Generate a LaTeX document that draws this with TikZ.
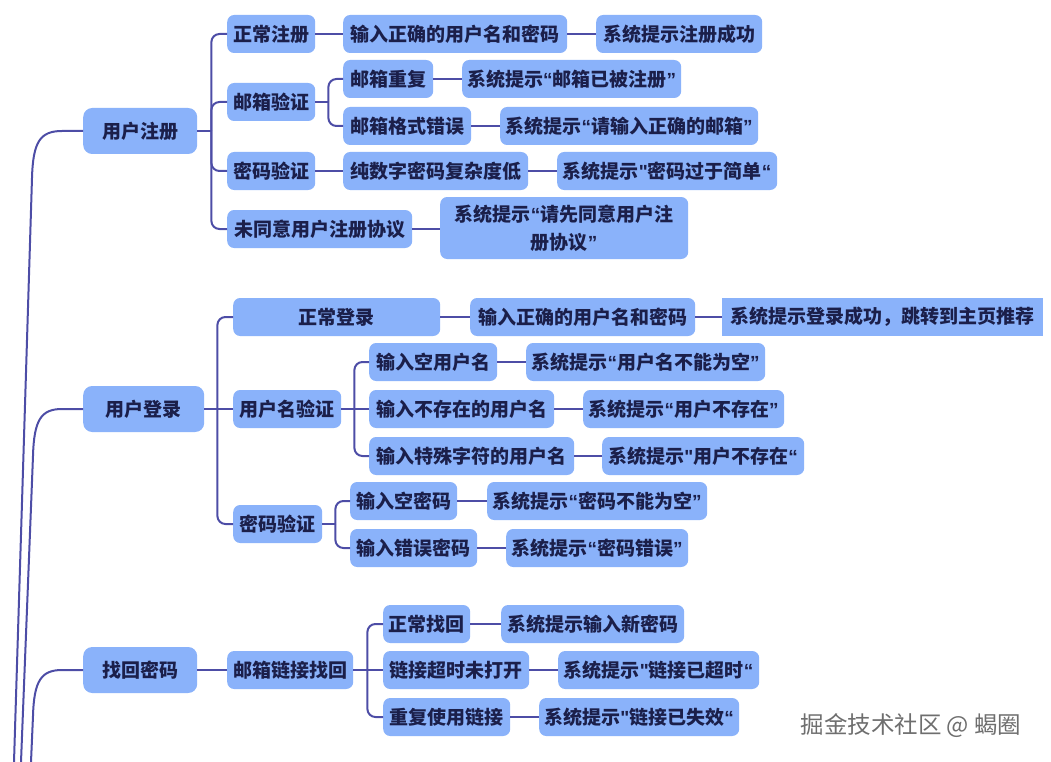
\documentclass[tikz,border=0pt]{standalone}
\usepackage{fontspec}
\setmainfont{Noto Sans CJK SC}
\newfontfamily\quotefont{Liberation Sans}[Ligatures=NoCommon]
\newcommand\oq{{\quotefont\bfseries “}}
\newcommand\cq{{\quotefont\bfseries ”}}
\newcommand\sq{{\quotefont\bfseries\symbol{34}}}
\definecolor{boxfill}{HTML}{8AB2FA}
\definecolor{linkcol}{HTML}{4D4DA6}
\definecolor{txtcol}{HTML}{1B1F4A}
\definecolor{markcol}{HTML}{6E6E6E}

\begin{document}
\begin{tikzpicture}[x=1pt, y=-1pt,
    item/.style={fill=boxfill, rounded corners=7pt, anchor=west, minimum height=38pt,
                 inner sep=0pt, text=txtcol, align=center,
                 font=\fontsize{19}{28}\selectfont\bfseries},
    topic/.style={item, minimum height=46pt, rounded corners=9pt},
    flat/.style={item, rounded corners=0pt},
    link/.style={draw=linkcol, line width=2pt},
    fork/.style={link, rounded corners=8pt}
  ]
  \useasboundingbox (0,0) rectangle (1051,762);

  % Registration branch.
  \node[topic, minimum width=114pt] (reg)      at (83,131)  {用户注册};
  \node[item, minimum width=88pt]   (regok)    at (227,34)  {正常注册};
  \node[item, minimum width=88pt]   (regmail)  at (227,102) {邮箱验证};
  \node[item, minimum width=88pt]   (regpwd)   at (227,171) {密码验证};
  \node[item, minimum width=185pt]  (regagree) at (227,229) {未同意用户注册协议};
  \node[item, minimum width=224pt]  (regokin)  at (343,34)  {输入正确的用户名和密码};
  \node[item, minimum width=166pt]  (regokmsg) at (596,34)  {系统提示注册成功};
  \node[item, minimum width=90pt]   (maildup)  at (343,79)  {邮箱重复};
  \node[item, minimum width=219pt]  (maildupmsg) at (462,79) {系统提示\oq 邮箱已被注册\cq};
  \node[item, minimum width=128pt]  (mailfmt)  at (343,126) {邮箱格式错误};
  \node[item, minimum width=258pt]  (mailfmtmsg) at (500,126) {系统提示\oq 请输入正确的邮箱\cq};
  \node[item, minimum width=185pt]  (pwdnum)   at (343,171) {纯数字密码复杂度低};
  \node[item, minimum width=220pt]  (pwdnummsg) at (557,171) {系统提示\sq 密码过于简单\oq};
  \node[item, minimum width=248pt, minimum height=62pt] (agreemsg) at (440,228)
    {系统提示\oq 请先同意用户注\\册协议\cq};

  % Login branch.
  \node[topic, minimum width=121pt] (login)     at (83,409)  {用户登录};
  \node[item, minimum width=207pt]  (loginok)   at (233,317) {正常登录};
  \node[item, minimum width=108pt]  (loginname) at (233,409) {用户名验证};
  \node[item, minimum width=89pt]   (loginpwd)  at (233,524) {密码验证};
  \node[item, minimum width=225pt]  (loginokin) at (470,317) {输入正确的用户名和密码};
  \node[flat, minimum width=321pt]  (loginokmsg) at (722,317) {系统提示登录成功，跳转到主页推荐};
  \node[item, minimum width=128pt]  (nameempty) at (369,362) {输入空用户名};
  \node[item, minimum width=239pt]  (nameemptymsg) at (526,362) {系统提示\oq 用户名不能为空\cq};
  \node[item, minimum width=185pt]  (namenone)  at (369,409) {输入不存在的用户名};
  \node[item, minimum width=201pt]  (namenonemsg) at (583,409) {系统提示\oq 用户不存在\cq};
  \node[item, minimum width=205pt]  (namespec)  at (369,456) {输入特殊字符的用户名};
  \node[item, minimum width=202pt]  (namespecmsg) at (602,456) {系统提示\sq 用户不存在\oq};
  \node[item, minimum width=107pt]  (pwdempty)  at (350,501) {输入空密码};
  \node[item, minimum width=220pt]  (pwdemptymsg) at (487,501) {系统提示\oq 密码不能为空\cq};
  \node[item, minimum width=127pt]  (pwdwrong)  at (350,548) {输入错误密码};
  \node[item, minimum width=182pt]  (pwdwrongmsg) at (506,548) {系统提示\oq 密码错误\cq};

  % Password recovery branch.
  \node[topic, minimum width=114pt] (find)      at (83,670)  {找回密码};
  \node[item, minimum width=126pt]  (findmail)  at (227,670) {邮箱链接找回};
  \node[item, minimum width=87pt]   (findok)    at (383,624) {正常找回};
  \node[item, minimum width=146pt]  (findlate)  at (383,670) {链接超时未打开};
  \node[item, minimum width=127pt]  (findreuse) at (383,717) {重复使用链接};
  \node[item, minimum width=183pt]  (findokmsg) at (501,624) {系统提示输入新密码};
  \node[item, minimum width=201pt]  (findlatemsg) at (558,670) {系统提示\sq 链接已超时\oq};
  \node[item, minimum width=200pt]  (findreusemsg) at (539,717) {系统提示\sq 链接已失效\oq};

  \node[text=markcol, font=\fontsize{23.5}{28}\selectfont] (mark) at (911,726) {掘金技术社区 @ 蝎圈};

  % Curves coming up from the root below the page.
  \coordinate (base1) at (14,762);
  \coordinate (base2) at (21,762);
  \coordinate (base3) at (31,762);
  \draw[link] (base1) -- (32,178) .. controls (33,142) and (40,131) .. (62,131) -- (reg.west);
  \draw[link] (base2) -- (33,456) .. controls (34,420) and (41,409) .. (62,409) -- (login.west);
  \draw[link] (base3) -- (33,716) .. controls (34,681) and (41,670) .. (62,670) -- (find.west);

  % Forks.
  \draw[link] (reg.east) -- ([xshift=14pt]reg.east);
  \foreach \c in {regok,regmail,regpwd,regagree}
    \draw[fork] ([xshift=14pt]reg.east) |- (\c.west);
  \draw[link] (regmail.east) -- ([xshift=13pt]regmail.east);
  \foreach \c in {maildup,mailfmt}
    \draw[fork] ([xshift=13pt]regmail.east) |- (\c.west);
  \draw[link] (login.east) -- (loginname.west);
  \foreach \c in {loginok,loginpwd}
    \draw[fork] ([xshift=13pt]login.east) |- (\c.west);
  \draw[link] (loginname.east) -- (namenone.west);
  \foreach \c in {nameempty,namespec}
    \draw[fork] ([xshift=13pt]loginname.east) |- (\c.west);
  \draw[link] (loginpwd.east) -- ([xshift=13pt]loginpwd.east);
  \foreach \c in {pwdempty,pwdwrong}
    \draw[fork] ([xshift=13pt]loginpwd.east) |- (\c.west);
  \draw[link] (find.east) -- (findmail.west);
  \draw[link] (findmail.east) -- (findlate.west);
  \foreach \c in {findok,findreuse}
    \draw[fork] ([xshift=14pt]findmail.east) |- (\c.west);

  % Straight links.
  \draw[link] (regok) -- (regokin);
  \draw[link] (regokin) -- (regokmsg);
  \draw[link] (maildup) -- (maildupmsg);
  \draw[link] (mailfmt) -- (mailfmtmsg);
  \draw[link] (regpwd) -- (pwdnum);
  \draw[link] (pwdnum) -- (pwdnummsg);
  \draw[link] (regagree.east) -- (regagree.east -| agreemsg.west);
  \draw[link] (loginok) -- (loginokin);
  \draw[link] (loginokin) -- (loginokmsg);
  \draw[link] (nameempty) -- (nameemptymsg);
  \draw[link] (namenone) -- (namenonemsg);
  \draw[link] (namespec) -- (namespecmsg);
  \draw[link] (pwdempty) -- (pwdemptymsg);
  \draw[link] (pwdwrong) -- (pwdwrongmsg);
  \draw[link] (findok) -- (findokmsg);
  \draw[link] (findlate) -- (findlatemsg);
  \draw[link] (findreuse) -- (findreusemsg);
\end{tikzpicture}
\end{document}
